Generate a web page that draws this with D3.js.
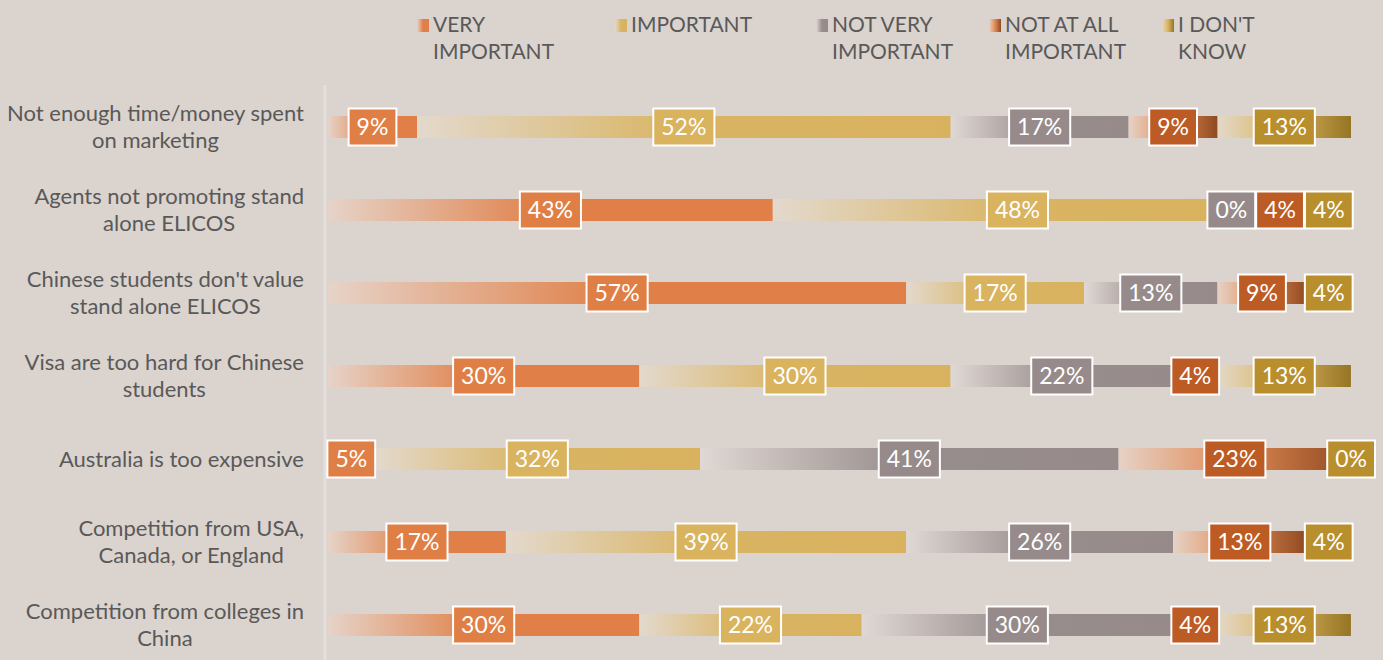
<!DOCTYPE html>
<html>
<head>
<meta charset="utf-8">
<script src="https://cdn.jsdelivr.net/npm/d3@7"></script>
<style>
  html, body { margin: 0; padding: 0; background: #dbd3cd; }
  svg { display: block; font-family: Lato, "Open Sans", sans-serif; }
</style>
</head>
<body>
<script>
// survey answers, share of respondents (%)
const categories = [
  ["Not enough time/money spent", "on marketing"],
  ["Agents not promoting stand", "alone ELICOS"],
  ["Chinese students don't value", "stand alone ELICOS"],
  ["Visa are too hard for Chinese", "students"],
  ["Australia is too expensive"],
  ["Competition from USA,", "Canada, or England"],
  ["Competition from colleges in", "China"]
];
const seriesNames = [["VERY", "IMPORTANT"], ["IMPORTANT"], ["NOT VERY", "IMPORTANT"], ["NOT AT ALL", "IMPORTANT"], ["I DON'T", "KNOW"]];
const veryImportant = [8.70, 43.48, 56.52, 30.43, 4.55, 17.39, 30.43];
const important     = [52.17, 47.83, 17.39, 30.43, 31.82, 39.13, 21.74];
const notVery       = [17.39, 0, 13.04, 21.74, 40.91, 26.09, 30.43];
const notAtAll      = [8.70, 4.35, 8.70, 4.35, 22.73, 13.04, 4.35];
const dontKnow      = [13.04, 4.35, 4.35, 13.04, 0, 4.35, 13.04];

const WIDTH = 1383, HEIGHT = 660;
const BAR_H = 22, BOX_H = 37;
// gradient stops per series: [left, middle, right]
const GRADS = [
  ["#e6d3c8", "#e08048", "#e08048"],
  ["#e3d9cc", "#d9b463", "#d8b25e"],
  ["#e0d8d5", "#978d8c", "#968b8a"],
  ["#e6d2c6", "#e08a55", "#8f4a20"],
  ["#e3d8c8", "#dab560", "#957424"]
];
const BOX_FILL = ["#df7f45", "#d9b35e", "#968b8a", "#bd5b24", "#b98f2e"];
const LEGEND_X = [417, 615, 816, 989, 1162];

const values = [veryImportant, important, notVery, notAtAll, dontKnow];

const svg = d3.select("body").append("svg")
  .attr("width", WIDTH).attr("height", HEIGHT);

svg.append("rect").attr("width", WIDTH).attr("height", HEIGHT).attr("fill", "#dbd3cd");

const defs = svg.append("defs");
GRADS.forEach((g, i) => {
  const lg = defs.append("linearGradient").attr("id", "grad" + i)
    .attr("x1", "0%").attr("x2", "100%").attr("y1", "0%").attr("y2", "0%");
  lg.append("stop").attr("offset", "0%").attr("stop-color", g[0]);
  lg.append("stop").attr("offset", "50%").attr("stop-color", g[1]);
  lg.append("stop").attr("offset", "100%").attr("stop-color", g[2]);
});

const x = d3.scaleLinear().domain([0, 100]).range([328, 1351]);
const y = d3.scaleBand().domain(d3.range(categories.length)).range([85.5, 666.5]);

// axis line
svg.append("line")
  .attr("x1", 325).attr("x2", 325).attr("y1", 85).attr("y2", HEIGHT)
  .attr("stroke", "#e4e0dd").attr("stroke-width", 3);

// stacked rows
const rows = categories.map((c, r) => {
  let acc = 0;
  return values.map((s, k) => {
    const seg = { row: r, k, v: s[r], x0: acc, x1: acc + s[r] };
    acc += s[r];
    return seg;
  });
});

const rowG = svg.selectAll("g.row").data(rows).join("g").attr("class", "row")
  .attr("transform", (d, i) => `translate(0,${y(i) + y.bandwidth() / 2})`);

rowG.selectAll("rect.seg").data(d => d.filter(s => s.v > 0)).join("rect")
  .attr("class", "seg")
  .attr("x", d => x(d.x0))
  .attr("width", d => x(d.x1) - x(d.x0))
  .attr("y", -BAR_H / 2)
  .attr("height", BAR_H)
  .attr("fill", d => `url(#grad${d.k})`);

// value labels
rowG.each(function(segs) {
  const g = d3.select(this);
  const labels = segs.map(s => {
    const lg = g.append("g");
    const t = lg.append("text")
      .attr("text-anchor", "middle").attr("dy", "0.36em")
      .attr("fill", "white").attr("font-size", 23)
      .text(Math.round(s.v) + "%");
    const w = t.node().getComputedTextLength() + 16;
    return { s, lg, t, w, cx: x((s.x0 + s.x1) / 2) };
  });
  labels.forEach(l => {
    if (l.cx - l.w / 2 < 324) l.cx = 324 + l.w / 2;
    if (l.cx + l.w / 2 > 1380) l.cx = 1380 - l.w / 2;
  });
  for (let i = labels.length - 2; i >= 0; i--) {
    const lim = labels[i + 1].cx - labels[i + 1].w / 2 - 1;
    if (labels[i].cx + labels[i].w / 2 > lim) labels[i].cx = lim - labels[i].w / 2;
  }
  labels.forEach(l => {
    l.lg.insert("rect", "text")
      .attr("x", l.cx - l.w / 2).attr("width", l.w)
      .attr("y", -BOX_H / 2).attr("height", BOX_H)
      .attr("fill", BOX_FILL[l.s.k])
      .attr("stroke", "white").attr("stroke-width", 2);
    l.t.attr("x", l.cx);
  });
});

// category labels
rowG.each(function(d, i) {
  const lines = categories[i];
  const t = d3.select(this).append("text")
    .attr("text-anchor", "middle").attr("fill", "#595959").attr("font-size", 22);
  lines.forEach((ln, j) => {
    t.append("tspan").attr("x", 0)
      .attr("y", (j - (lines.length - 1) / 2) * 27)
      .attr("dy", "0.35em").text(ln);
  });
  const w = t.node().getBBox().width;
  t.selectAll("tspan").attr("x", 304 - w / 2);
});

// legend
const leg = svg.append("g").selectAll("g").data(seriesNames).join("g")
  .attr("transform", (d, i) => `translate(${LEGEND_X[i]},0)`);
leg.append("rect").attr("x", 0).attr("y", 19).attr("width", 12).attr("height", 13)
  .attr("fill", (d, i) => `url(#grad${i})`);
leg.append("text").attr("fill", "#595959").attr("font-size", 21)
  .selectAll("tspan").data(d => d).join("tspan")
  .attr("x", 16).attr("y", (d, j) => 32 + j * 27).text(d => d);
</script>
</body>
</html>
